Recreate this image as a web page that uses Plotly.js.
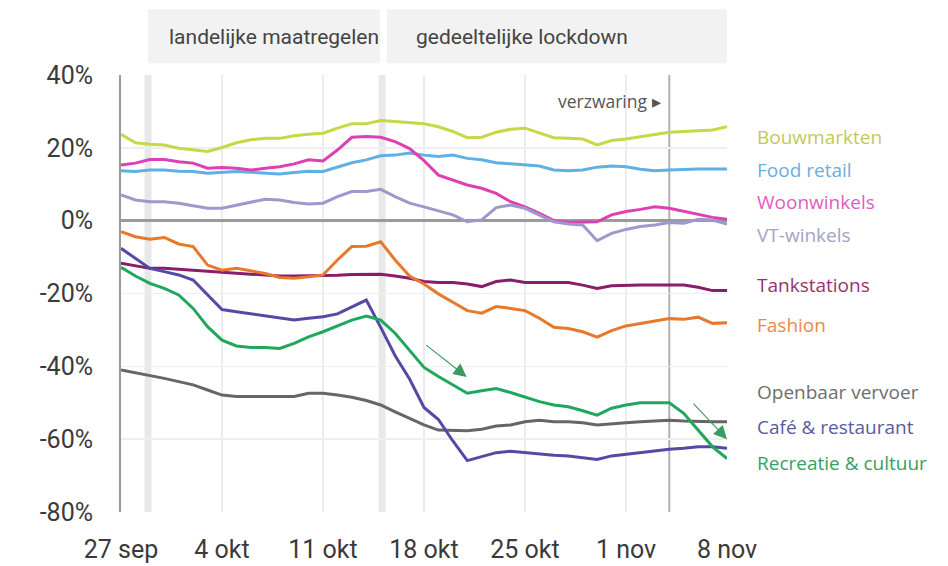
<!DOCTYPE html>
<html>
<head>
<meta charset="utf-8">
<script src="https://cdn.plot.ly/plotly-3.0.1.min.js"></script>
<style>html,body{margin:0;padding:0;background:#fff;}#chart{width:948px;height:566px;}</style>
</head>
<body>
<div id="chart"></div>
<script>
// Daily dates, 27 sep – 8 nov 2020
const dates = ["2020-09-27","2020-09-28","2020-09-29","2020-09-30","2020-10-01","2020-10-02","2020-10-03",
"2020-10-04","2020-10-05","2020-10-06","2020-10-07","2020-10-08","2020-10-09","2020-10-10",
"2020-10-11","2020-10-12","2020-10-13","2020-10-14","2020-10-15","2020-10-16","2020-10-17",
"2020-10-18","2020-10-19","2020-10-20","2020-10-21","2020-10-22","2020-10-23","2020-10-24",
"2020-10-25","2020-10-26","2020-10-27","2020-10-28","2020-10-29","2020-10-30","2020-10-31",
"2020-11-01","2020-11-02","2020-11-03","2020-11-04","2020-11-05","2020-11-06","2020-11-07","2020-11-08"];

const bouwmarkten = [23.7,21.4,21.0,20.8,19.9,19.4,19.0,20.1,21.4,22.2,22.6,22.6,23.3,23.7,24.0,25.4,26.6,26.6,27.5,27.2,26.8,26.6,25.8,24.5,22.8,22.9,24.3,25.1,25.4,24.0,22.8,22.6,22.4,20.8,22.0,22.4,23.1,23.7,24.3,24.5,24.7,24.9,25.8];
const foodRetail = [13.7,13.5,13.9,13.9,13.6,13.5,13.0,13.2,13.5,13.3,13.0,12.8,13.2,13.6,13.5,14.8,15.9,16.7,17.8,18.0,18.6,18.0,17.6,18.0,17.1,16.7,15.9,15.6,15.3,15.0,13.9,13.7,13.9,14.7,15.0,14.8,14.1,13.7,13.9,14.1,14.2,14.2,14.2];
const woonwinkels = [15.3,15.8,16.8,16.8,16.2,15.8,14.4,14.6,14.4,13.9,14.4,14.8,15.6,16.7,16.4,19.4,22.9,23.1,22.9,21.7,19.8,16.5,12.5,11.2,9.8,8.9,7.5,5.2,3.8,2.0,0.0,-0.5,-0.5,-0.3,1.6,2.5,3.1,3.8,3.4,2.5,1.6,0.9,0.4];
const vtWinkels = [7.1,5.7,5.2,5.2,4.8,4.0,3.4,3.4,4.3,5.2,5.9,5.7,5.0,4.6,4.8,6.6,8.0,8.0,8.6,6.6,4.8,3.8,2.7,1.6,-0.3,0.2,3.6,4.3,3.4,1.6,-0.3,-0.9,-1.2,-5.5,-3.5,-2.4,-1.6,-1.2,-0.5,-0.7,0.4,0.2,-0.9];
const tankstations = [-11.7,-12.4,-13.1,-13.1,-13.4,-13.7,-14.0,-14.3,-14.5,-14.7,-14.9,-15.2,-15.2,-15.2,-15.2,-15.0,-14.8,-14.7,-14.7,-15.2,-15.8,-16.7,-17.0,-17.0,-17.4,-18.1,-16.7,-16.3,-17.0,-17.0,-17.0,-17.0,-17.7,-18.6,-17.9,-17.7,-17.7,-17.7,-17.7,-17.7,-18.3,-19.2,-19.2];
const fashion = [-3.0,-4.4,-5.1,-4.6,-6.4,-7.1,-12.2,-13.6,-13.1,-13.7,-14.5,-15.6,-15.8,-15.4,-14.9,-10.8,-7.1,-7.0,-5.8,-10.8,-15.2,-17.4,-20.1,-22.4,-24.7,-25.4,-23.6,-24.1,-24.7,-26.8,-29.3,-29.6,-30.5,-32.0,-30.2,-28.9,-28.2,-27.5,-26.9,-27.1,-26.5,-28.2,-28.0];
const openbaarVervoer = [-41.0,-41.7,-42.4,-43.3,-44.2,-45.1,-46.5,-47.9,-48.3,-48.3,-48.3,-48.3,-48.3,-47.4,-47.4,-47.9,-48.5,-49.4,-50.6,-52.5,-54.3,-56.1,-57.5,-57.7,-57.7,-57.3,-56.4,-56.1,-55.2,-54.8,-55.2,-55.2,-55.5,-56.1,-55.7,-55.5,-55.2,-55.0,-54.8,-55.0,-55.2,-55.2,-55.2];
const cafeRestaurant = [-7.6,-10.3,-13.1,-14.0,-14.9,-16.3,-20.4,-24.4,-25.0,-25.6,-26.2,-26.8,-27.3,-26.8,-26.4,-25.6,-23.6,-21.8,-29.3,-37.1,-43.5,-51.3,-54.6,-60.5,-65.9,-64.8,-63.7,-63.3,-63.7,-64.1,-64.4,-64.6,-65.0,-65.6,-64.6,-64.1,-63.7,-63.3,-62.8,-62.5,-62.1,-62.1,-62.5];
const recreatieCultuur = [-12.8,-15.2,-17.2,-18.6,-20.4,-24.1,-29.1,-32.8,-34.4,-34.8,-34.8,-35.1,-33.7,-31.9,-30.5,-28.9,-27.3,-26.2,-27.3,-30.9,-35.5,-40.3,-42.8,-45.1,-47.4,-46.7,-46.1,-47.2,-48.5,-49.7,-50.6,-51.1,-52.2,-53.4,-51.5,-50.6,-50.0,-50.0,-50.0,-52.9,-57.5,-62.1,-65.3];

const seriesNames = ["Bouwmarkten","Food retail","Woonwinkels","VT-winkels","Tankstations","Fashion","Openbaar vervoer","Café & restaurant","Recreatie & cultuur"];
const seriesValues = [bouwmarkten, foodRetail, woonwinkels, vtWinkels, tankstations, fashion, openbaarVervoer, cafeRestaurant, recreatieCultuur];

const xTickVals = ["2020-09-27","2020-10-04","2020-10-11","2020-10-18","2020-10-25","2020-11-01","2020-11-08"];
const xTickText = ["27 sep","4 okt","11 okt","18 okt","25 okt","1 nov","8 nov"];
const yTickVals = [-80,-60,-40,-20,0,20,40];
const yTickText = ["-80%","-60%","-40%","-20%","0%","20%","40%"];

const periodLabels = ["landelijke maatregelen","gedeeltelijke lockdown"];
const verzwaringLabel = "verzwaring ▸";
const verzwaringDate = "2020-11-04";

// styling
const lineColors = ["#c8d747","#5fb0e4","#e03fb4","#9e98cc","#8a1c6c","#e8782c","#666666","#5549a5","#1fa85d"];
const labelColors = ["#c2c85a","#6aaee0","#df5cc0","#a3a3c6","#9a2f6e","#ee8748","#6e6e6e","#5a5aa0","#36a062"];
const labelY = [0.859,0.783,0.710,0.634,0.519,0.428,0.275,0.195,0.111];

const traces = seriesNames.map((n,i)=>({
  type:"scatter", mode:"lines", name:n, x:dates, y:seriesValues[i],
  line:{color:lineColors[i], width:3}, hoverinfo:"skip"
}));

const tickFont = "Roboto, Liberation Sans, sans-serif";

const annotations = seriesNames.map((n,i)=>({
  xref:"paper", yref:"paper", x:1.046, y:labelY[i], xanchor:"left", yanchor:"middle",
  text:n, showarrow:false, font:{family:"Open Sans, sans-serif", size:19, color:labelColors[i]}
}));
annotations.push(
  {xref:"paper", yref:"paper", x:0.2525, y:1.088, xanchor:"center", yanchor:"middle", text:periodLabels[0], showarrow:false, font:{family:tickFont, size:21, color:"#444"}},
  {xref:"paper", yref:"paper", x:0.484, y:1.088, xanchor:"left", yanchor:"middle", text:periodLabels[1], showarrow:false, font:{family:tickFont, size:21, color:"#444"}},
  {xref:"paper", yref:"paper", x:0.894, y:0.941, xanchor:"right", yanchor:"middle", text:verzwaringLabel, showarrow:false, font:{family:"Open Sans, sans-serif", size:17.5, color:"#555"}},
  {x:"2020-10-20 23:00", y:-42.9, xref:"x", yref:"y", ax:-42, ay:-33, showarrow:true, arrowhead:2, arrowsize:2.4, arrowwidth:1.1, arrowcolor:"#3b9a5f", text:""},
  {x:"2020-11-08", y:-60.0, xref:"x", yref:"y", ax:-35, ay:-37, showarrow:true, arrowhead:2, arrowsize:2.4, arrowwidth:1.1, arrowcolor:"#3b9a5f", text:""}
);

const shapes = [
  {type:"rect", xref:"paper", yref:"paper", x0:0.0446, x1:0.427, y0:1.027, y1:1.1507, fillcolor:"#f2f2f2", line:{width:0}, layer:"below"},
  {type:"rect", xref:"paper", yref:"paper", x0:0.439, x1:1.0, y0:1.027, y1:1.1507, fillcolor:"#f2f2f2", line:{width:0}, layer:"below"},
  {type:"rect", xref:"paper", yref:"paper", x0:0.0388, x1:0.0503, y0:0, y1:1, fillcolor:"#e8e8e8", line:{width:0}, layer:"below"},
  {type:"rect", xref:"paper", yref:"paper", x0:0.425, x1:0.4365, y0:0, y1:1, fillcolor:"#e8e8e8", line:{width:0}, layer:"below"},
  {type:"line", xref:"x", yref:"paper", x0:verzwaringDate, x1:verzwaringDate, y0:0, y1:1, line:{color:"#b0b0b0", width:2}, layer:"below"}
];

const layout = {
  width:948, height:566,
  margin:{l:121, r:221, t:75, b:54},
  paper_bgcolor:"#ffffff", plot_bgcolor:"#ffffff",
  showlegend:false,
  xaxis:{type:"date", range:["2020-09-27","2020-11-08"], tickvals:xTickVals, ticktext:xTickText,
    showgrid:true, gridcolor:"#ececec", gridwidth:1.5, zeroline:false, showline:false, ticks:"",
    ticklabelstandoff:20, tickfont:{family:tickFont, size:25, color:"#3a3a3a"}, fixedrange:true},
  yaxis:{range:[-80,40], tickvals:yTickVals, ticktext:yTickText,
    showgrid:true, gridcolor:"#eeeeee", gridwidth:1.5, zeroline:true, zerolinecolor:"#9a9a9a", zerolinewidth:2.5,
    showline:true, linecolor:"#9a9a9a", linewidth:2, ticks:"",
    ticklabelstandoff:21, tickfont:{family:tickFont, size:25, color:"#3a3a3a"}, fixedrange:true},
  shapes:shapes, annotations:annotations
};

Plotly.newPlot("chart", traces, layout, {staticPlot:true, displayModeBar:false});
</script>
</body>
</html>
